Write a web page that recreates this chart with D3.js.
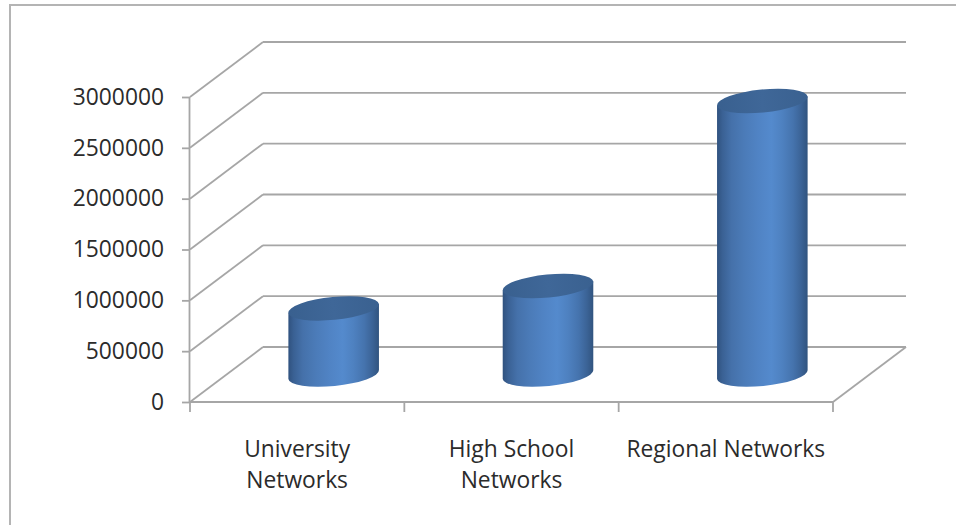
<!DOCTYPE html>
<html>
<head>
<meta charset="utf-8">
<script src="https://cdn.jsdelivr.net/npm/d3@7"></script>
<style>
  html, body { margin: 0; padding: 0; background: #fff; }
  svg { display: block; }
  text { font-family: "Open Sans", "Noto Sans", sans-serif; fill: #2b2b2b; }
</style>
</head>
<body>
<svg id="chart" width="956" height="525"></svg>
<script>
// ---- data ----
const categories = ["University Networks", "High School Networks", "Regional Networks"];
const categoryLines = [["University", "Networks"], ["High School", "Networks"], ["Regional Networks"]];
const values = [650000, 870000, 2690000];
const yTicks = [0, 500000, 1000000, 1500000, 2000000, 2500000, 3000000];
const yTickLabels = ["0", "500000", "1000000", "1500000", "2000000", "2500000", "3000000"];

// ---- layout ----
const svg = d3.select("#chart");
const frontLeft = 190, frontRight = 833, floorY = 402, topY = 97;
const depthX = 73, depthY = -55;
const gridColor = "#a6a6a6";
const fontSize = 22.8;

const y = d3.scaleLinear().domain([0, 3000000]).range([floorY, topY]);
const x = d3.scaleBand().domain(categories).range([frontLeft, frontRight]).padding(0);

// outer border
svg.append("rect").attr("x", 10).attr("y", 5).attr("width", 1000).attr("height", 1000)
  .attr("fill", "none").attr("stroke", "#b4b4b4").attr("stroke-width", 2);

const grid = svg.append("g").attr("stroke", gridColor).attr("stroke-width", 1.8).attr("fill", "none");

// back wall gridlines + left wall diagonals
yTicks.forEach(t => {
  const yy = y(t);
  grid.append("line").attr("x1", frontLeft + depthX).attr("x2", frontRight + depthX)
    .attr("y1", yy + depthY).attr("y2", yy + depthY);
  grid.append("line").attr("x1", frontLeft).attr("x2", frontLeft + depthX)
    .attr("y1", yy).attr("y2", yy + depthY);
});
// floor right edge
grid.append("line").attr("x1", frontRight).attr("y1", floorY)
  .attr("x2", frontRight + depthX).attr("y2", floorY + depthY);
// floor front edge
grid.append("line").attr("x1", frontLeft).attr("y1", floorY).attr("x2", frontRight).attr("y2", floorY);

// value axis
const yAxis = d3.axisLeft(y).tickValues(yTicks).tickFormat((d, i) => yTickLabels[i])
  .tickSize(8).tickPadding(18);
const yG = svg.append("g").attr("transform", `translate(${frontLeft},0)`).call(yAxis);
yG.select(".domain").attr("stroke", gridColor).attr("stroke-width", 1.8).attr("d", `M-0.5,${floorY}V${topY}`);
yG.selectAll(".tick line").attr("stroke", gridColor).attr("stroke-width", 1.8);
yG.selectAll(".tick text").attr("font-size", fontSize).attr("font-family", '"Open Sans", sans-serif').attr("fill", "#2b2b2b");

// category boundary ticks
const bounds = categories.map(c => x(c)).concat([frontRight]);
bounds.forEach(b => {
  grid.append("line").attr("x1", b).attr("x2", b).attr("y1", floorY).attr("y2", floorY + 10);
});

// category labels
const lab = svg.append("g");
categories.forEach((c, i) => {
  const cx = x(c) + x.bandwidth() / 2;
  const t = lab.append("text").attr("text-anchor", "middle").attr("font-size", fontSize);
  categoryLines[i].forEach((line, j) => {
    t.append("tspan").attr("x", cx).attr("y", 457 + j * 31).text(line);
  });
});

// cylinders
const defs = svg.append("defs");
const grad = defs.append("linearGradient").attr("id", "cyl").attr("x1", "0").attr("x2", "1").attr("y1", "0").attr("y2", "0");
[[0, "#30527f"], [0.06, "#3a6194"], [0.16, "#4571aa"], [0.3, "#4b7bb8"], [0.45, "#5083c4"],
 [0.6, "#548acd"], [0.72, "#4e81c0"], [0.84, "#4573ad"], [0.93, "#3b6396"], [1, "#31547f"]]
  .forEach(([o, c]) => grad.append("stop").attr("offset", o).attr("stop-color", c));
const topGrad = defs.append("linearGradient").attr("id", "cyltop").attr("x1", "0").attr("x2", "1").attr("y1", "0").attr("y2", "0");
[[0, "#39608f"], [0.5, "#3f6798"], [1, "#3a6190"]]
  .forEach(([o, c]) => topGrad.append("stop").attr("offset", o).attr("stop-color", c));

const rx = 45.5, ry = 11.5, rot = -5.6;
const a = rx * Math.cos(rot * Math.PI / 180), b = rx * Math.sin(rot * Math.PI / 180);
const cyl = svg.append("g");
categories.forEach((c, i) => {
  const cx = x(c) + x.bandwidth() / 2 + depthX / 2;
  const baseY = y(0) + depthY / 2;
  const topCy = y(values[i]) + depthY / 2;
  const d = `M${cx - a},${topCy - b} L${cx - a},${baseY - b} A${rx},${ry} ${rot} 0 0 ${cx + a},${baseY + b} L${cx + a},${topCy + b} Z`;
  cyl.append("path").attr("d", d).attr("fill", "url(#cyl)");
  cyl.append("ellipse").attr("cx", 0).attr("cy", 0).attr("rx", rx).attr("ry", ry)
    .attr("transform", `translate(${cx},${topCy}) rotate(${rot})`).attr("fill", "url(#cyltop)");
});
</script>
</body>
</html>
